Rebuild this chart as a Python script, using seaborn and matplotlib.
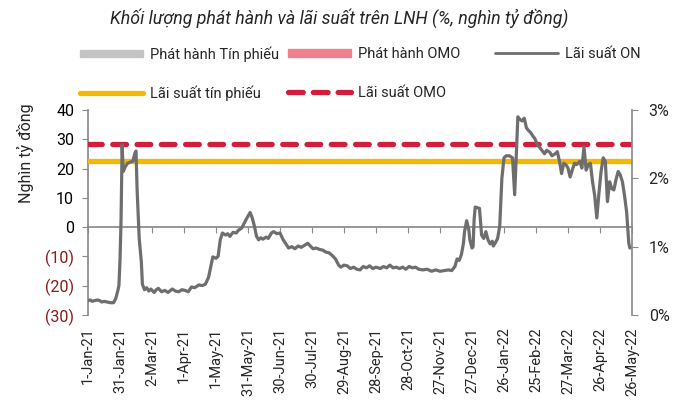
import numpy as np
import pandas as pd
import matplotlib
matplotlib.use("Agg")
import matplotlib.pyplot as plt
import seaborn as sns
import matplotlib.dates as mdates
from matplotlib import font_manager as fm
from matplotlib.lines import Line2D
from matplotlib.patches import Patch

# ---------------- data ----------------
title = "Khối lượng phát hành và lãi suất trên LNH (%, nghìn tỷ đồng)"

on_dates = [
    "2021-01-01", "2021-01-03", "2021-01-05", "2021-01-07", "2021-01-10", "2021-01-12",
    "2021-01-14", "2021-01-16", "2021-01-19", "2021-01-22", "2021-01-25", "2021-01-27",
    "2021-01-29", "2021-01-30", "2021-01-31", "2021-02-01", "2021-02-02", "2021-02-03",
    "2021-02-05", "2021-02-07", "2021-02-10", "2021-02-12", "2021-02-14", "2021-02-15",
    "2021-02-16", "2021-02-18", "2021-02-20", "2021-02-21", "2021-02-23", "2021-02-25",
    "2021-02-27", "2021-03-01", "2021-03-04", "2021-03-06", "2021-03-08", "2021-03-11",
    "2021-03-14", "2021-03-17", "2021-03-21", "2021-03-24", "2021-03-27", "2021-03-30",
    "2021-04-02", "2021-04-05", "2021-04-08", "2021-04-11", "2021-04-15", "2021-04-18",
    "2021-04-21", "2021-04-24", "2021-04-26", "2021-04-28", "2021-05-01", "2021-05-03",
    "2021-05-05", "2021-05-07", "2021-05-10", "2021-05-12", "2021-05-14", "2021-05-17",
    "2021-05-20", "2021-05-22", "2021-05-25", "2021-05-27", "2021-05-30", "2021-06-02",
    "2021-06-04", "2021-06-06", "2021-06-08", "2021-06-10", "2021-06-12", "2021-06-14",
    "2021-06-17", "2021-06-19", "2021-06-22", "2021-06-24", "2021-06-27", "2021-06-30",
    "2021-07-03", "2021-07-06", "2021-07-08", "2021-07-11", "2021-07-14", "2021-07-17",
    "2021-07-20", "2021-07-23", "2021-07-26", "2021-07-29", "2021-07-31", "2021-08-03",
    "2021-08-06", "2021-08-09", "2021-08-12", "2021-08-15", "2021-08-18", "2021-08-21",
    "2021-08-24", "2021-08-26", "2021-08-29", "2021-09-01", "2021-09-04", "2021-09-07",
    "2021-09-10", "2021-09-13", "2021-09-16", "2021-09-19", "2021-09-22", "2021-09-25",
    "2021-09-28", "2021-10-02", "2021-10-05", "2021-10-08", "2021-10-11", "2021-10-14",
    "2021-10-17", "2021-10-20", "2021-10-23", "2021-10-26", "2021-10-29", "2021-11-01",
    "2021-11-04", "2021-11-07", "2021-11-11", "2021-11-15", "2021-11-19", "2021-11-23",
    "2021-11-27", "2021-12-01", "2021-12-05", "2021-12-08", "2021-12-11", "2021-12-13",
    "2021-12-15", "2021-12-17", "2021-12-19", "2021-12-20", "2021-12-22", "2021-12-24",
    "2021-12-25", "2021-12-27", "2021-12-28", "2021-12-29", "2021-12-30", "2022-01-01",
    "2022-01-03", "2022-01-05", "2022-01-07", "2022-01-09", "2022-01-11", "2022-01-13",
    "2022-01-15", "2022-01-16", "2022-01-18", "2022-01-20", "2022-01-22", "2022-01-24",
    "2022-01-26", "2022-01-28", "2022-01-31", "2022-02-03", "2022-02-05", "2022-02-07",
    "2022-02-08", "2022-02-10", "2022-02-12", "2022-02-14", "2022-02-16", "2022-02-18",
    "2022-02-20", "2022-02-22", "2022-02-24", "2022-02-26", "2022-03-01", "2022-03-03",
    "2022-03-05", "2022-03-07", "2022-03-10", "2022-03-12", "2022-03-15", "2022-03-17",
    "2022-03-19", "2022-03-21", "2022-03-23", "2022-03-25", "2022-03-27", "2022-03-29",
    "2022-03-31", "2022-04-02", "2022-04-04", "2022-04-07", "2022-04-09", "2022-04-11",
    "2022-04-13", "2022-04-15", "2022-04-17", "2022-04-19", "2022-04-21", "2022-04-23",
    "2022-04-25", "2022-04-27", "2022-04-29", "2022-05-01", "2022-05-03", "2022-05-05",
    "2022-05-07", "2022-05-09", "2022-05-11", "2022-05-13", "2022-05-15", "2022-05-17",
    "2022-05-19", "2022-05-21", "2022-05-23", "2022-05-24",
]
on_rate = [
    0.21, 0.22, 0.20, 0.21, 0.22, 0.21,
    0.19, 0.20, 0.19, 0.18, 0.18, 0.24,
    0.36, 0.43, 0.80, 1.40, 2.49, 2.10,
    2.17, 2.22, 2.24, 2.25, 2.37, 2.40,
    1.85, 1.12, 0.78, 0.45, 0.37, 0.40,
    0.35, 0.38, 0.33, 0.37, 0.39, 0.34,
    0.36, 0.33, 0.38, 0.35, 0.34, 0.37,
    0.36, 0.34, 0.41, 0.40, 0.44, 0.43,
    0.45, 0.55, 0.70, 0.85, 0.83, 0.86,
    1.10, 1.20, 1.17, 1.19, 1.15, 1.21,
    1.20, 1.24, 1.27, 1.33, 1.42, 1.50,
    1.42, 1.30, 1.15, 1.10, 1.13, 1.11,
    1.14, 1.12, 1.20, 1.22, 1.19, 1.20,
    1.10, 1.03, 0.98, 1.00, 0.97, 1.01,
    0.99, 1.02, 1.05, 1.00, 0.97, 0.98,
    0.96, 0.95, 0.92, 0.91, 0.87, 0.82,
    0.73, 0.70, 0.73, 0.72, 0.68, 0.70,
    0.67, 0.66, 0.71, 0.69, 0.72, 0.68,
    0.70, 0.68, 0.71, 0.69, 0.73, 0.69,
    0.70, 0.68, 0.70, 0.67, 0.71, 0.69,
    0.70, 0.67, 0.66, 0.67, 0.64, 0.66,
    0.64, 0.65, 0.66, 0.65, 0.71, 0.82,
    0.80, 0.88, 1.05, 1.22, 1.38, 1.25,
    1.10, 0.98, 1.00, 1.40, 1.58, 1.57,
    1.56, 1.17, 1.12, 1.22, 1.10, 1.04,
    1.08, 1.01, 1.06, 1.12, 1.30, 2.00,
    2.30, 2.33, 2.33, 2.30, 1.76, 2.50,
    2.90, 2.86, 2.84, 2.88, 2.74, 2.70,
    2.67, 2.62, 2.58, 2.50, 2.44, 2.40,
    2.36, 2.41, 2.38, 2.33, 2.36, 2.39,
    2.25, 2.07, 2.22, 2.20, 2.15, 2.02,
    2.12, 2.22, 2.20, 2.25, 2.15, 2.46,
    2.12, 2.20, 2.22, 1.95, 1.75, 1.42,
    1.78, 2.10, 2.30, 2.25, 1.66, 1.95,
    1.85, 1.83, 1.98, 2.10, 2.05, 1.95,
    1.75, 1.50, 1.05, 0.98,
]

tp_dates = ["2021-12-30", "2022-03-22", "2022-04-25"]
tp_volume = [10, 4, 4.5]
omo_dates = ["2021-02-09", "2022-02-07"]
omo_volume = [14, 7]

tp_rate = 2.25
omo_rate = 2.5

tick_labels = ["1-Jan-21", "31-Jan-21", "2-Mar-21", "1-Apr-21", "1-May-21", "31-May-21",
               "30-Jun-21", "30-Jul-21", "29-Aug-21", "28-Sep-21", "28-Oct-21", "27-Nov-21",
               "27-Dec-21", "26-Jan-22", "25-Feb-22", "27-Mar-22", "26-Apr-22", "26-May-22"]
left_ticks = [-30, -20, -10, 0, 10, 20, 30, 40]
left_tick_labels = ["(30)", "(20)", "(10)", "0", "10", "20", "30", "40"]
right_ticks = [0, 1, 2, 3]
right_tick_labels = ["0%", "1%", "2%", "3%"]

legend_labels = ["Phát hành Tín phiếu", "Phát hành OMO", "Lãi suất ON",
                 "Lãi suất tín phiếu", "Lãi suất OMO"]
ylabel = "Nghìn tỷ đồng"

# ---------------- style ----------------
sns.set_theme(style="white")
avail = {f.name for f in fm.fontManager.ttflist}
fam = "Liberation Sans Narrow" if "Liberation Sans Narrow" in avail else "Roboto"
plt.rcParams["font.family"] = [fam, "DejaVu Sans"]

C_ON = "#6E6E6E"
C_TP = "#F5B800"
C_OMO = "#D01F3C"
C_BAR_TP = "#C4C4C4"
C_BAR_OMO = "#EE8090"
C_SPINE = "#8A8A8A"
C_NEG = "#8B1A1A"

df_on = pd.DataFrame({"date": pd.to_datetime(on_dates), "rate": on_rate})
tick_dates = pd.to_datetime(tick_labels, format="%d-%b-%y")

fig = plt.figure(figsize=(6.75, 4.03), dpi=100)
ax = fig.add_axes([88 / 675, 88 / 403, 544 / 675, 205 / 403])

# bars (left axis)
ax.bar(pd.to_datetime(tp_dates), tp_volume, width=1.0, color=C_BAR_TP, zorder=2)
ax.bar(pd.to_datetime(omo_dates), omo_volume, width=1.0, color=C_BAR_OMO, zorder=2)
ax.set_ylim(-30, 40)
ax.set_xlim(tick_dates[0], tick_dates[-1])
ax.set_yticks(left_ticks, left_tick_labels)
for lab, v in zip(ax.get_yticklabels(), left_ticks):
    lab.set_color(C_NEG if v < 0 else "black")
ax.tick_params(axis="y", direction="out", length=4, width=0.8, color=C_SPINE,
               labelsize=11.5, pad=6, left=True)
ax.set_ylabel(ylabel, fontsize=11.5)
ax.yaxis.set_label_coords(-0.10, 0.79)

for s in ["top", "right"]:
    ax.spines[s].set_visible(False)
ax.spines["left"].set_color(C_SPINE)
ax.spines["bottom"].set_color(C_SPINE)
ax.spines["bottom"].set_position(("data", 0))
ax.set_xticks(tick_dates)
ax.tick_params(axis="x", direction="out", length=4, width=0.8, color=C_SPINE,
               labelbottom=False, bottom=True)

sec = ax.secondary_xaxis("bottom")
sec.set_xticks(mdates.date2num(tick_dates), tick_labels)
sec.tick_params(axis="x", length=0, rotation=90, labelsize=10.5, pad=9)
sec.spines["bottom"].set_visible(False)

# lines (right axis)
ax2 = ax.twinx()
ax2.axhline(tp_rate, color=C_TP, lw=3.8, zorder=1)
ax2.axhline(omo_rate, color=C_OMO, lw=3.8, dashes=(2.6, 2.0),
            dash_capstyle="round", zorder=1)
sns.lineplot(data=df_on, x="date", y="rate", ax=ax2, color=C_ON, lw=2.3, zorder=3)
ax2.set_ylim(0, 3)
ax2.set_xlim(tick_dates[0], tick_dates[-1])
ax2.set_yticks(right_ticks, right_tick_labels)
ax2.tick_params(axis="y", direction="out", length=4, width=0.8, color=C_SPINE,
                labelsize=11.5, pad=8, right=True)
ax2.set_ylabel("")
ax2.set_xlabel("")
for s in ["top", "left", "bottom"]:
    ax2.spines[s].set_visible(False)
ax2.spines["right"].set_color(C_SPINE)

# title
fig.text(339 / 675, 1 - 18 / 403, title, ha="center", va="center",
         fontsize=12.8, fontstyle="italic")

# legend (manual placement)
handles = [
    Patch(color=C_BAR_TP),
    Patch(color=C_BAR_OMO),
    Line2D([], [], color=C_ON, lw=2.0),
    Line2D([], [], color=C_TP, lw=3.8),
    Line2D([], [], color=C_OMO, lw=3.8, dashes=(2.8, 1.9), dash_capstyle="round"),
]
positions = [(80, 54), (288, 54), (495, 54), (80, 93), (288, 93)]
for h, lab, (px, py) in zip(handles, legend_labels, positions):
    fig.legend(handles=[h], labels=[lab], loc="center left",
               bbox_to_anchor=(px / 675, 1 - py / 403), frameon=False,
               borderpad=0, borderaxespad=0, handlelength=4.3, handleheight=0.45,
               handletextpad=0.5, fontsize=10.5)

fig.savefig("out.png", dpi=100)
